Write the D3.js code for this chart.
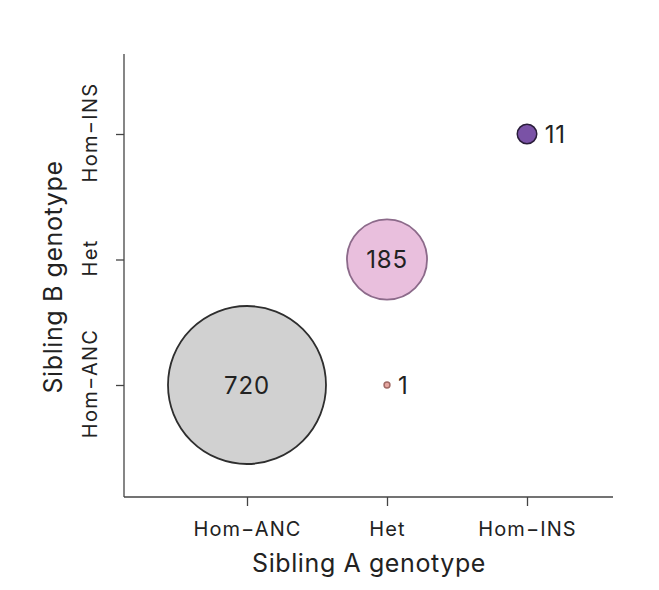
<!DOCTYPE html>
<html>
<head>
<meta charset="utf-8">
<script src="https://cdn.jsdelivr.net/npm/d3@7"></script>
<style>
  body { margin: 0; background: #fff; }
  text { font-family: "Inter", "Liberation Sans", sans-serif; fill: #222; }
</style>
</head>
<body>
<svg id="chart" width="659" height="590"></svg>
<script>
// genotype categories, shared by both axes
var genotypes = ["Hom\u2212ANC", "Het", "Hom\u2212INS"];

// each bubble: sibling A genotype, sibling B genotype, count
var sibA = ["Hom\u2212ANC", "Het", "Het", "Hom\u2212INS"];
var sibB = ["Hom\u2212ANC", "Hom\u2212ANC", "Het", "Hom\u2212INS"];
var counts = [720, 1, 185, 11];
var fills = ["#d1d1d1", "#e6a6a0", "#e9bfdd", "#7a52a6"];
var strokes = ["#2e2e2e", "#a06a66", "#8c6a8a", "#2a1d3a"];

var svg = d3.select("#chart");

var x = d3.scalePoint().domain(genotypes).range([247, 527]);
var y = d3.scalePoint().domain(genotypes).range([385, 134]);
var r = d3.scaleSqrt().domain([0, 720]).range([0, 79]);

var axisColor = "#444";
var font = "Inter, 'Liberation Sans', sans-serif";

// axis lines (drawn by hand so they run past the outer ticks)
svg.append("line")
    .attr("x1", 124).attr("x2", 613).attr("y1", 497).attr("y2", 497)
    .attr("stroke", axisColor).attr("stroke-width", 1.3);
svg.append("line")
    .attr("x1", 124).attr("x2", 124).attr("y1", 54).attr("y2", 497)
    .attr("stroke", axisColor).attr("stroke-width", 1.3);

var xAxis = svg.append("g")
    .attr("transform", "translate(0,497)")
    .call(d3.axisBottom(x).tickSize(9).tickPadding(16));
xAxis.select(".domain").remove();
xAxis.selectAll("line").attr("stroke", axisColor).attr("stroke-width", 1.3);
xAxis.selectAll("text")
    .attr("font-size", 20)
    .attr("letter-spacing", 1.1)
    .attr("fill", "#222")
    .style("font-family", font);

var yAxis = svg.append("g")
    .attr("transform", "translate(124,0)")
    .call(d3.axisLeft(y).tickSize(8));
yAxis.select(".domain").remove();
yAxis.selectAll("line").attr("stroke", axisColor).attr("stroke-width", 1.3);
yAxis.selectAll("text")
    .attr("x", null).attr("dy", null)
    .attr("transform", "translate(-27,-2) rotate(-90)")
    .attr("text-anchor", "middle")
    .attr("font-size", 20)
    .attr("letter-spacing", 1.3)
    .attr("fill", "#222")
    .style("font-family", font);

// axis titles
svg.append("text")
    .attr("x", 369).attr("y", 572)
    .attr("text-anchor", "middle")
    .attr("font-size", 25)
    .attr("letter-spacing", 0.6)
    .text("Sibling A genotype");
svg.append("text")
    .attr("transform", "translate(62,277) rotate(-90)")
    .attr("text-anchor", "middle")
    .attr("font-size", 25)
    .attr("letter-spacing", 0.6)
    .text("Sibling B genotype");

var data = counts.map(function(c, i) {
    return {a: sibA[i], b: sibB[i], n: c, fill: fills[i], stroke: strokes[i]};
});

svg.selectAll("circle.bubble")
    .data(data)
    .enter()
    .append("circle")
    .attr("class", "bubble")
    .attr("cx", function(d) { return x(d.a); })
    .attr("cy", function(d) { return y(d.b); })
    .attr("r", function(d) { return r(d.n); })
    .attr("fill", function(d) { return d.fill; })
    .attr("stroke", function(d) { return d.stroke; })
    .attr("stroke-width", function(d) { return d.n > 100 ? 1.8 : 1.5; });

// big bubbles get their count inside, small ones to the right
svg.selectAll("text.count")
    .data(data)
    .enter()
    .append("text")
    .attr("class", "count")
    .attr("x", function(d) { return d.n > 100 ? x(d.a) : x(d.a) + r(d.n) + 8; })
    .attr("y", function(d) { return y(d.b); })
    .attr("dy", "0.36em")
    .attr("text-anchor", function(d) { return d.n > 100 ? "middle" : "start"; })
    .attr("font-size", 24)
    .attr("letter-spacing", 0.8)
    .text(function(d) { return d.n; });
</script>
</body>
</html>
